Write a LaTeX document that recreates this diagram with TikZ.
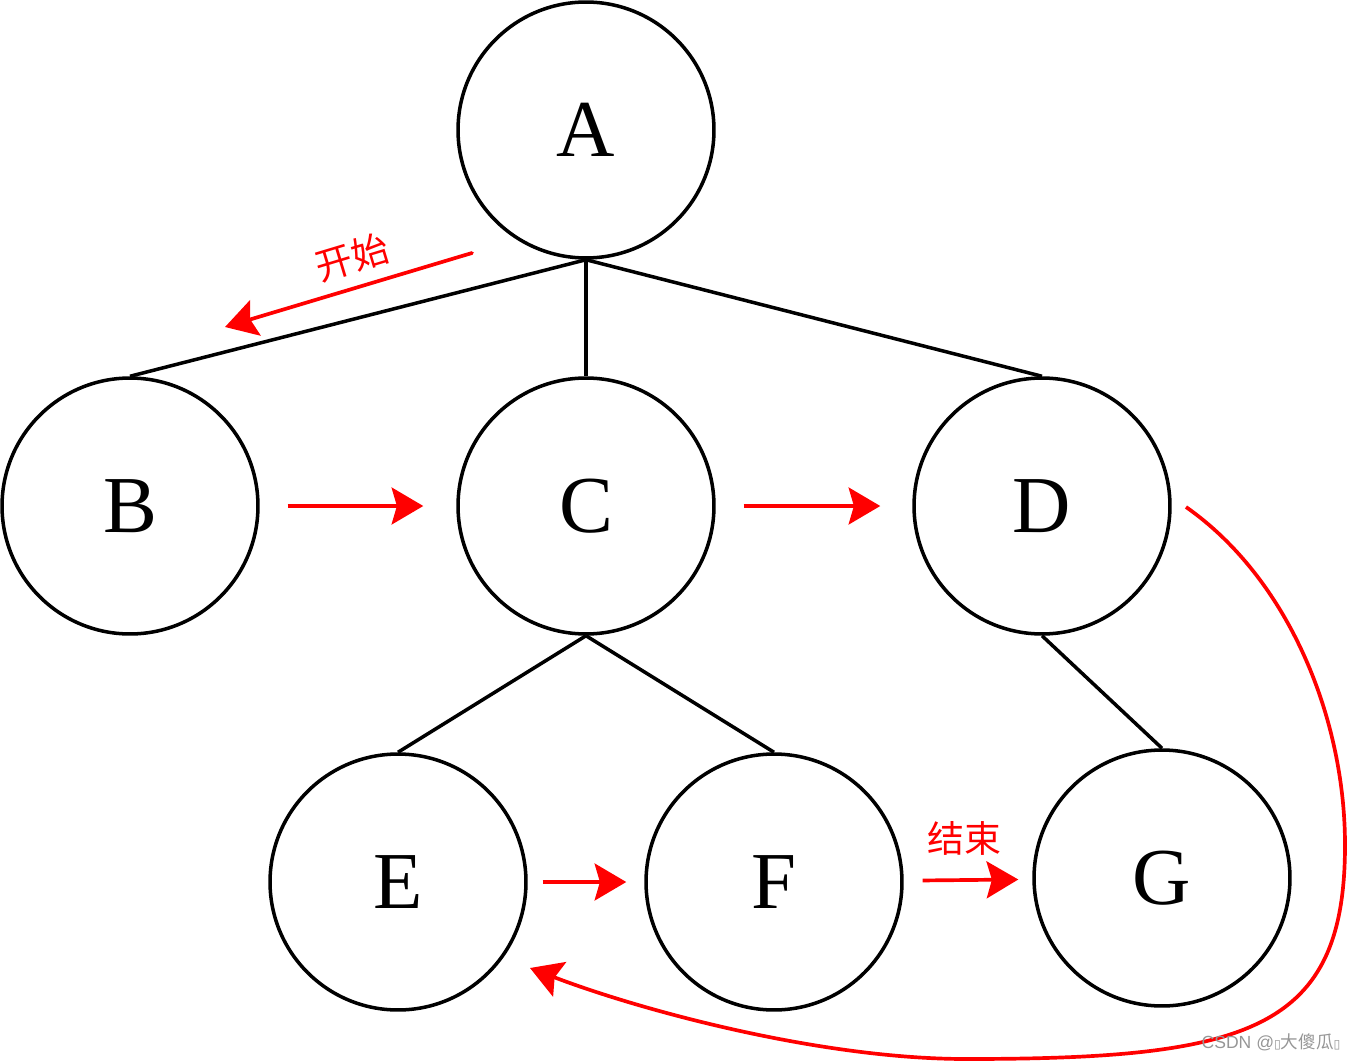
\documentclass[tikz,border=0pt]{standalone}
\usepackage{fontspec}
\setmainfont{Liberation Serif}
\newfontfamily\cjkfont{Noto Sans CJK SC}
\newfontfamily\wmfont{Liberation Sans}
\newfontfamily\symfont{DejaVu Sans}
\usetikzlibrary{arrows.meta}
\definecolor{arrred}{RGB}{255,0,0}
\definecolor{wmgray}{RGB}{150,150,150}
\begin{document}
\begin{tikzpicture}[x=0.02cm,y=-0.02cm,
  treenode/.style={circle,draw=black,line width=2pt,minimum size=5.12cm,inner sep=0pt,font=\fontsize{46}{50}\selectfont},
  edge/.style={line width=2pt,black},
  redarr/.style={line width=2.1pt,arrred,-{Stealth[length=18pt,width=21pt,inset=3pt]}},
  redlabel/.style={text=arrred,font=\cjkfont\fontsize{21}{24}\selectfont,inner sep=0pt}]
\useasboundingbox (0,0) rectangle (1349,1061);
\node[treenode] (A) at (586,130) {A};
\node[treenode] (B) at (130,506) {B};
\node[treenode] (C) at (586,506) {C};
\node[treenode] (D) at (1042,506) {D};
\node[treenode] (E) at (398,882) {E};
\node[treenode] (F) at (774,882) {F};
\node[treenode] (G) at (1162,878) {G};
\draw[edge] (A.south) -- (B.north);
\draw[edge] (A.south) -- (C.north);
\draw[edge] (A.south) -- (D.north);
\draw[edge] (C.south) -- (E.north);
\draw[edge] (C.south) -- (F.north);
\draw[edge] (D.south) -- (G.north);
% red arrows
\draw[redarr,shorten <=0.56cm,shorten >=0.66cm] (B) -- (C);
\draw[redarr,shorten <=0.56cm,shorten >=0.64cm] (C) -- (D);
\draw[redarr,shorten <=0.30cm,shorten >=0.36cm] (E) -- (F);
\draw[redarr,shorten <=0.38cm,shorten >=0.28cm] (F) -- (G);
\coordinate (s1) at (472,253);
\coordinate (s2) at (225,327);
\draw[redarr,line cap=round] (s1) -- (s2);
\node[redlabel,rotate=16.8] (start) at (352,257) {开始};
\node[redlabel] (end) at (964,838) {结束};
\coordinate (c0) at (1186,507);
\coordinate (c1) at (1345,845);
\coordinate (c2) at (966,1059);
\coordinate (c3) at (530,968);
\draw[redarr] (c0) .. controls (1290,580) and (1345,720) .. (c1)
  .. controls (1345,1030) and (1250,1059) .. (c2)
  .. controls (820,1059) and (640,1010) .. (c3);
\node[text=wmgray,inner sep=0pt,font=\wmfont\fontsize{10}{12}\selectfont] (wm) at (1271,1042) {CSDN @{\symfont\fontsize{7}{8}\selectfont ▯}{\cjkfont 大傻瓜}{\symfont\fontsize{7}{8}\selectfont ▯}};
\end{tikzpicture}
\end{document}
